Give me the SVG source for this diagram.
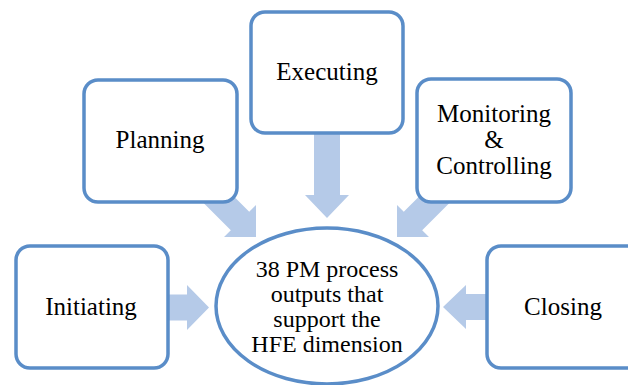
<svg xmlns="http://www.w3.org/2000/svg" width="628" height="385" viewBox="0 0 628 385">
<style>
.box{fill:#fff;stroke:#5A8DC8;stroke-width:3.5}
.arr{fill:#B5CAE8}
.t{font-family:'Liberation Serif','Times New Roman',serif;fill:#000;text-anchor:middle;font-size:25px}
.c{font-family:'Liberation Serif','Times New Roman',serif;fill:#000;text-anchor:middle;font-size:24px}
</style>
<defs>
<polygon id="a70" points="-70,-13 -22.6,-13 -22.6,-22.6 0,0 -22.6,22.6 -22.6,13 -70,13"/>
</defs>
<rect width="628" height="385" fill="#fff"/>
<g id="connectors" class="arr">
<polygon points="-50,-13 -22,-13 -22,-22.5 0,0 -22,22.5 -22,13 -50,13" transform="translate(209,307.5)"/>
<polygon points="-50,-13 -23,-13 -23,-22 0,0 -23,22 -23,13 -50,13" transform="translate(443,307) rotate(180)"/>
<polygon points="-93,-13 -23,-13 -23,-22 0,0 -23,22 -23,13 -93,13" transform="translate(327,218) rotate(90)"/>
<use href="#a70" transform="translate(256,237) rotate(45)"/>
<use href="#a70" transform="translate(397,237) rotate(135)"/>
</g>
<g id="initiating"><rect class="box" x="16" y="246" width="152" height="122" rx="14"/><text class="t" x="91" y="315">Initiating</text></g>
<g id="planning"><rect class="box" x="84" y="80" width="153" height="122" rx="14"/><text class="t" x="160" y="148">Planning</text></g>
<g id="executing"><rect class="box" x="251" y="12" width="152" height="121" rx="14"/><text class="t" x="327" y="80">Executing</text></g>
<g id="monitoring"><rect class="box" x="417" y="79" width="154" height="123" rx="14"/><text class="t" x="494" y="122">Monitoring</text><text class="t" x="494" y="148">&amp;</text><text class="t" x="494" y="174">Controlling</text></g>
<g id="closing"><rect class="box" x="487" y="246" width="154" height="122" rx="14"/><text class="t" x="563" y="315">Closing</text></g>
<g id="center"><ellipse class="box" cx="327" cy="306" rx="111" ry="78"/><text class="c" x="327" y="277">38 PM process</text><text class="c" x="327" y="302">outputs that</text><text class="c" x="327" y="327">support the</text><text class="c" x="327" y="352">HFE dimension</text></g>
</svg>
